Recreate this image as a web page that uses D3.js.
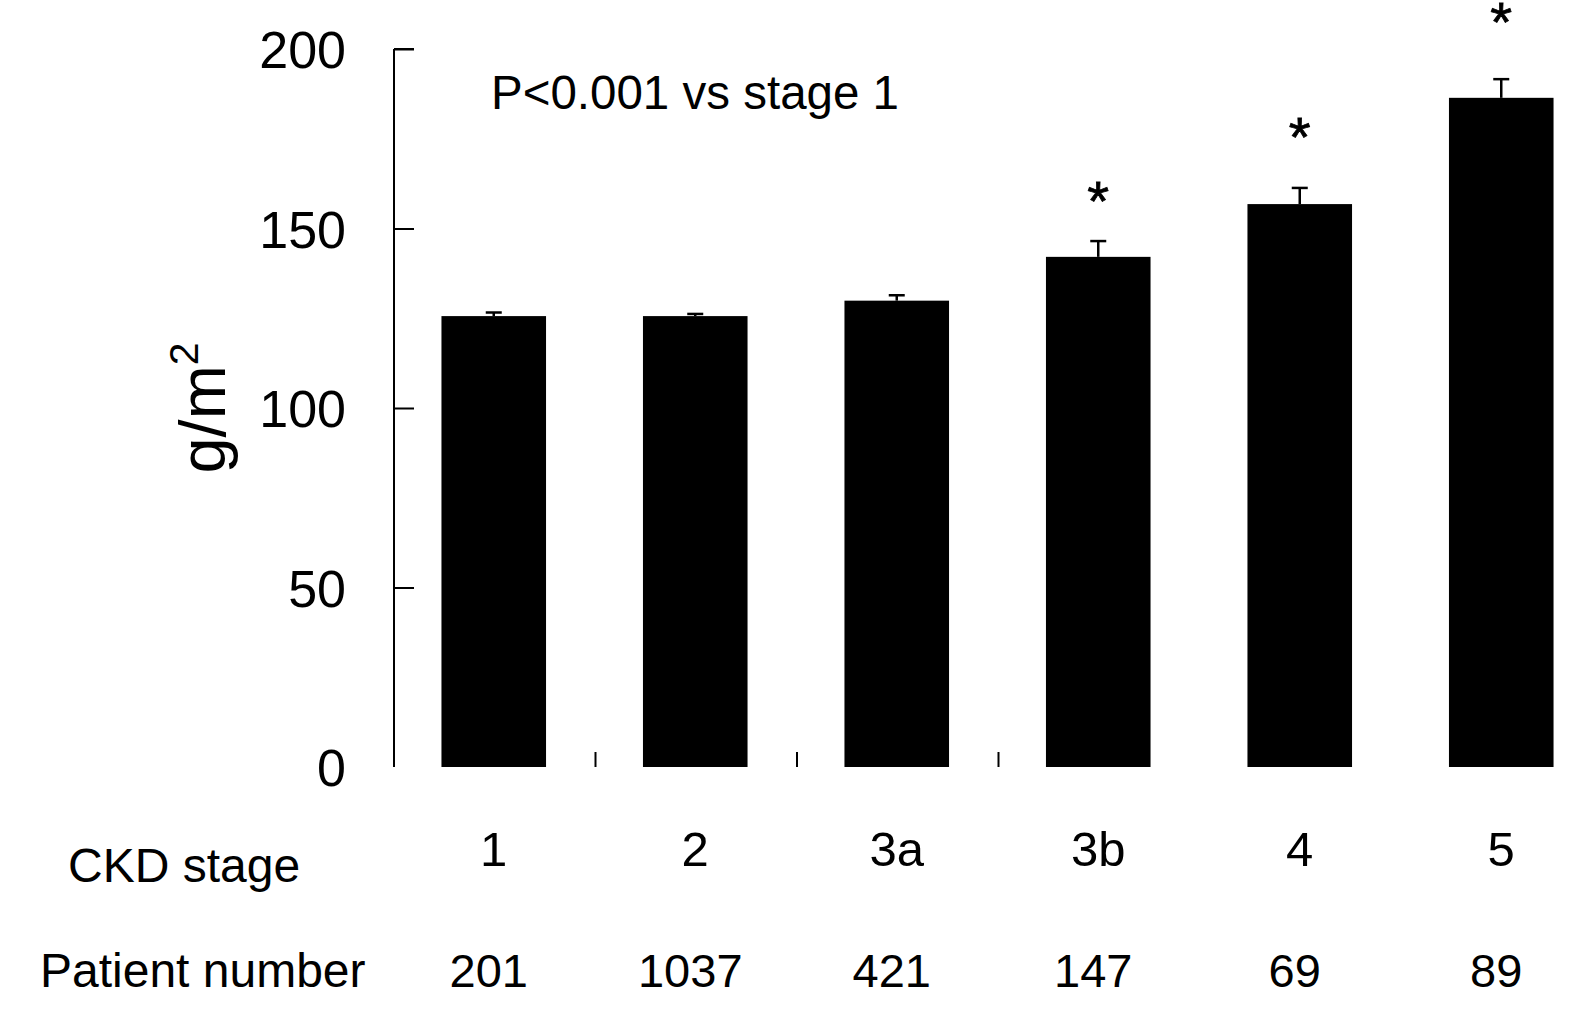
<!DOCTYPE html>
<html>
<head>
<meta charset="utf-8">
<script src="https://cdn.jsdelivr.net/npm/d3@7"></script>
<style>
  html, body { margin: 0; padding: 0; background: #fff; }
  svg { display: block; }
  text { font-family: "Liberation Sans", Arial, sans-serif; fill: #000; }
</style>
</head>
<body>
<svg id="chart" width="1580" height="1022"></svg>
<script>
// Left ventricular mass index (g/m²) by CKD stage, mean with upper error bar
const stages = ["1", "2", "3a", "3b", "4", "5"];
const means = [125.6, 125.6, 129.9, 142.1, 156.8, 186.4];
const upperErr = [126.6, 126.2, 131.4, 146.5, 161.3, 191.6];
const patients = [201, 1037, 421, 147, 69, 89];
const starStages = ["3b", "4", "5"];
const starLevels = [159.9, 177.7, 209.8];
const yTicks = [0, 50, 100, 150, 200];
const xTickAfter = ["1", "2", "3a"];

const svg = d3.select("#chart");

const y = d3.scaleLinear().domain([0, 200]).range([767, 49]);
const x = d3.scaleBand()
  .domain(stages)
  .range([393, 1602])
  .paddingInner(0.481)
  .paddingOuter(0.2405);

// Y axis: vertical line with inward ticks
const yAxis = d3.axisLeft(y)
  .tickValues(yTicks)
  .tickSize(-20)
  .tickPadding(48)
  .tickFormat(d3.format("d"));

const gy = svg.append("g")
  .attr("transform", "translate(394,0)")
  .call(yAxis);
gy.select(".domain")
  .attr("d", `M0,${y(200)}V${y(0)}M0,${y(200)}H20`)
  .attr("stroke", "#000").attr("stroke-width", 2).attr("fill", "none");
gy.selectAll(".tick line").attr("stroke", "#000").attr("stroke-width", 2)
  .attr("display", d => d === 0 ? "none" : null);
gy.selectAll(".tick text")
  .attr("font-size", 52)
  .attr("font-family", "Liberation Sans, Arial, sans-serif")
  .attr("dy", "0.36em");

// Y label
svg.append("text")
  .attr("transform", `translate(225,408) rotate(-90)`)
  .attr("text-anchor", "middle")
  .attr("font-size", 65)
  .text("g/m")
  .append("tspan")
  .attr("font-size", 41)
  .attr("dy", -27)
  .text("2");

// Small separator ticks between stage groups on the baseline
const sepX = d => x(d) + x.bandwidth() / 2 + x.step() / 2 + 1;
svg.append("g").selectAll("line")
  .data(xTickAfter)
  .join("line")
  .attr("x1", sepX)
  .attr("x2", sepX)
  .attr("y1", y(0))
  .attr("y2", y(0) - 15)
  .attr("stroke", "#000")
  .attr("stroke-width", 2);

// Bars
svg.append("g").selectAll("rect")
  .data(stages)
  .join("rect")
  .attr("x", d => x(d))
  .attr("width", x.bandwidth())
  .attr("y", (d, i) => y(means[i]))
  .attr("height", (d, i) => y(0) - y(means[i]))
  .attr("fill", "#000");

// Upper error bars
const eb = svg.append("g").attr("stroke", "#000").attr("stroke-width", 2.5);
eb.selectAll("line.stem")
  .data(stages)
  .join("line")
  .attr("class", "stem")
  .attr("x1", d => x(d) + x.bandwidth() / 2)
  .attr("x2", d => x(d) + x.bandwidth() / 2)
  .attr("y1", (d, i) => y(means[i]))
  .attr("y2", (d, i) => y(upperErr[i]));
eb.selectAll("line.cap")
  .data(stages)
  .join("line")
  .attr("class", "cap")
  .attr("x1", d => x(d) + x.bandwidth() / 2 - 8)
  .attr("x2", d => x(d) + x.bandwidth() / 2 + 8)
  .attr("y1", (d, i) => y(upperErr[i]))
  .attr("y2", (d, i) => y(upperErr[i]));

// Significance markers
svg.append("g").selectAll("text")
  .data(starStages)
  .join("text")
  .attr("x", d => x(d) + x.bandwidth() / 2)
  .attr("y", (d, i) => y(starLevels[i]) + 27)
  .attr("text-anchor", "middle")
  .attr("font-size", 56)
  .attr("stroke", "#000")
  .attr("stroke-width", 0.8)
  .text("*");

// Annotation
svg.append("text")
  .attr("x", 491)
  .attr("y", 109)
  .attr("font-size", 47.5)
  .text("P<0.001 vs stage 1");

// Row labels under the axis
svg.append("text").attr("x", 68).attr("y", 882).attr("font-size", 48).text("CKD stage");
svg.append("text").attr("x", 40).attr("y", 987).attr("font-size", 48).text("Patient number");

svg.append("g").selectAll("text")
  .data(stages)
  .join("text")
  .attr("x", d => x(d) + x.bandwidth() / 2)
  .attr("y", 866)
  .attr("text-anchor", "middle")
  .attr("font-size", 49)
  .text(d => d);

svg.append("g").selectAll("text")
  .data(stages)
  .join("text")
  .attr("x", d => x(d) + x.bandwidth() / 2 - 5)
  .attr("y", 987)
  .attr("text-anchor", "middle")
  .attr("font-size", 47)
  .text((d, i) => patients[i]);
</script>
</body>
</html>
